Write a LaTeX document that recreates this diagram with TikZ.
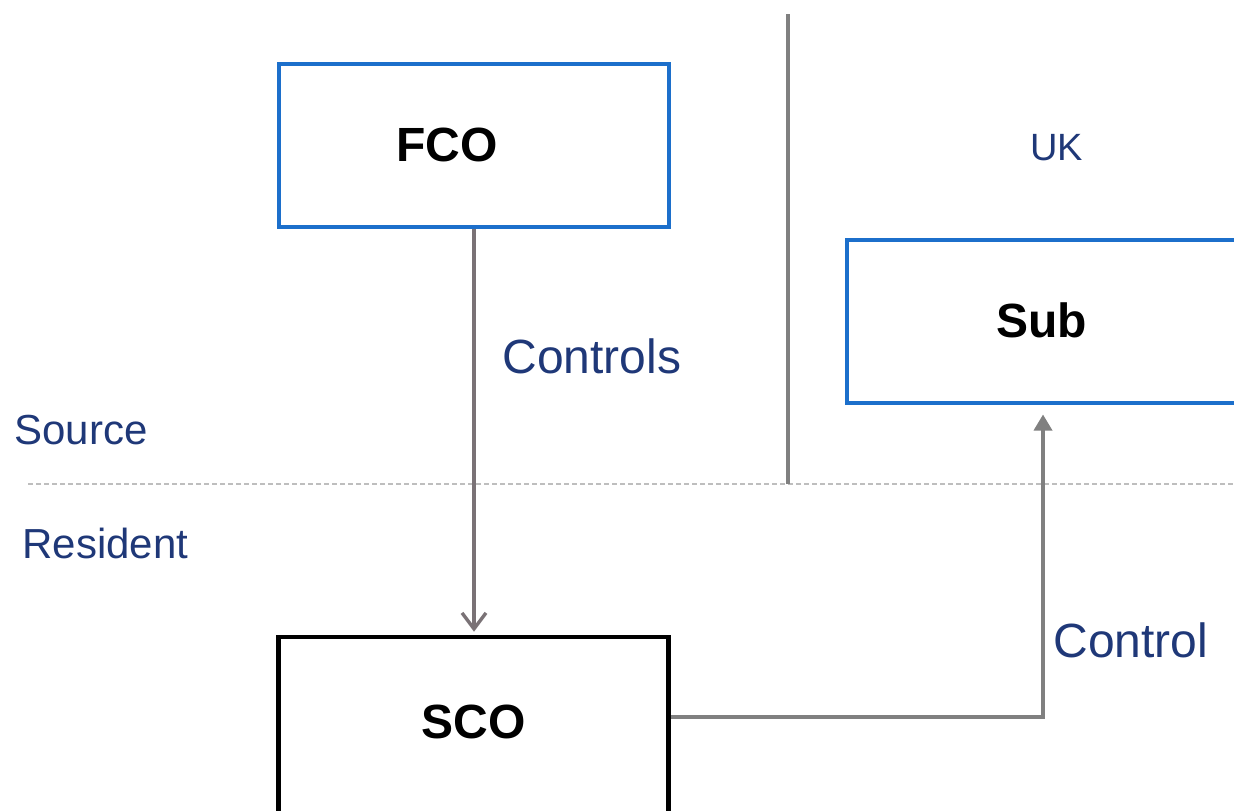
\documentclass[tikz,border=0pt]{standalone}
\usepackage{fontspec}
\setmainfont{Liberation Sans}
\usetikzlibrary{arrows.meta}
\definecolor{boxblue}{RGB}{28,111,203}
\definecolor{txtblue}{RGB}{31,56,120}
\definecolor{lgray}{RGB}{128,128,128}
\definecolor{agray}{RGB}{122,114,118}
\definecolor{dgray}{RGB}{190,190,190}
\tikzset{
  bluebox/.style={draw=boxblue, line width=2pt, minimum width=195pt, minimum height=81.5pt, inner sep=0pt, font=\fontsize{24pt}{28pt}\selectfont\bfseries},
  blackbox/.style={draw=black, line width=2.3pt, minimum width=195pt, minimum height=92pt, inner sep=0pt, font=\fontsize{24pt}{28pt}\selectfont\bfseries},
  lbl/.style={text=txtblue, inner sep=0pt, anchor=base west},
  conn/.style={draw=lgray, line width=1.7pt},
}
\begin{document}
\begin{tikzpicture}[x=0.5pt,y=-0.5pt]
\useasboundingbox (0,0) rectangle (1234,810);
\clip (0,0) rectangle (1234,810);
% separators
\draw[dgray, line width=0.8pt, dash pattern=on 2.5pt off 1.5pt] (28,484) -- (1234,484);
\draw[lgray, line width=2pt] (788,14) -- (788,484);
% boxes
\node[bluebox] (fco) at (473.5,145) {\hspace*{-26.5pt}FCO};
\node[bluebox] (sub) at (1041.5,321) {\raisebox{1pt}{Sub}};
\node[blackbox] (sco) at (473.5,729) {\raisebox{7pt}{SCO}};
% labels
\node[lbl, font=\fontsize{24pt}{28pt}\selectfont] (lcontrols) at (502,373) {Controls};
\node[lbl, font=\fontsize{24pt}{28pt}\selectfont] (lcontrol) at (1053,657) {Control};
\node[lbl, font=\fontsize{21pt}{25pt}\selectfont] (lsource) at (14,444) {Source};
\node[lbl, font=\fontsize{21pt}{25pt}\selectfont] (lresident) at (22,558) {Resident};
\node[lbl, font=\fontsize{19pt}{23pt}\selectfont] (luk) at (1030,160) {UK};
% connectors
\draw[draw=agray, line width=1.7pt, -{Straight Barb[length=8pt,width=12pt,line width=1.7pt]}, shorten >=1.5pt] (fco.south -| 474,0) -- (sco.north -| 474,0);
\coordinate (bend) at (1043,717);
\draw[conn, -{Triangle[length=8pt,width=9pt]}, shorten >=5pt] (bend -| sco.east) -- (bend) -- (bend |- sub.south);
\end{tikzpicture}
\end{document}
